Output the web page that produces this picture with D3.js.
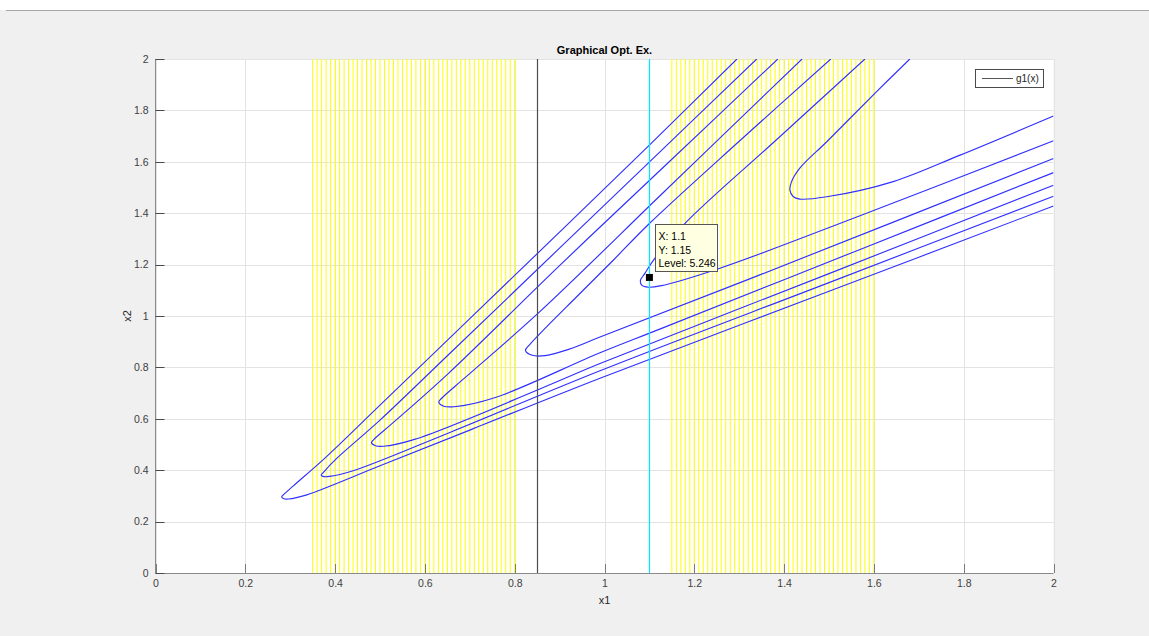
<!DOCTYPE html>
<html>
<head>
<meta charset="utf-8">
<script src="https://cdn.jsdelivr.net/npm/d3@7"></script>
<style>
  body { margin: 0; background: #ffffff; }
  svg { display: block; font-family: "Liberation Sans", Arial, sans-serif; }
</style>
</head>
<body>
<div class="chart"></div>
<script>
const width = 1149;
const height = 636;

// Tick values for both axes
const xTicks = [0, 0.2, 0.4, 0.6, 0.8, 1, 1.2, 1.4, 1.6, 1.8, 2];
const yTicks = [0, 0.2, 0.4, 0.6, 0.8, 1, 1.2, 1.4, 1.6, 1.8, 2];

// Yellow vertical lines (two bands)
const yellowLeft = [0.35, 0.36, 0.37, 0.38, 0.39, 0.40, 0.41, 0.42, 0.43, 0.44, 0.45, 0.46,
  0.47, 0.48, 0.49, 0.50, 0.51, 0.52, 0.53, 0.54, 0.55, 0.56, 0.57, 0.58, 0.59, 0.60, 0.61,
  0.62, 0.63, 0.64, 0.65, 0.66, 0.67, 0.68, 0.69, 0.70, 0.71, 0.72, 0.73, 0.74, 0.75, 0.76,
  0.77, 0.78, 0.79, 0.80];
const yellowRight = [1.15, 1.16, 1.17, 1.18, 1.19, 1.20, 1.21, 1.22, 1.23, 1.24, 1.25, 1.26,
  1.27, 1.28, 1.29, 1.30, 1.31, 1.32, 1.33, 1.34, 1.35, 1.36, 1.37, 1.38, 1.39, 1.40, 1.41,
  1.42, 1.43, 1.44, 1.45, 1.46, 1.47, 1.48, 1.49, 1.50, 1.51, 1.52, 1.53, 1.54, 1.55, 1.56,
  1.57, 1.58, 1.59, 1.60];

// g1(x) line and the cyan line
const g1X = 0.85;
const cyanX = 1.1;

// Contour lines: [x1, x2]
const contour1 = [[1.295, 2], [1.10, 1.665], [0.901, 1.328], [0.70, 0.99], [0.50, 0.653],
  [0.381, 0.453], [0.307, 0.339], [0.284, 0.303], [0.281, 0.296], [0.286, 0.289],
  [0.296, 0.288], [0.337, 0.304], [0.50, 0.417], [0.70, 0.556], [0.990, 0.758],
  [1.5, 1.096], [2, 1.428]];
const contour2 = [[1.339, 2], [1.12, 1.633], [0.901, 1.266], [0.657, 0.857], [0.50, 0.595],
  [0.403, 0.445], [0.373, 0.39], [0.369, 0.381], [0.375, 0.375], [0.388, 0.376],
  [0.442, 0.399], [0.657, 0.548], [0.990, 0.787], [1.5, 1.13], [2, 1.466]];
const contour3 = [[1.386, 2], [1.15, 1.61], [0.901, 1.198], [0.652, 0.776], [0.526, 0.580],
  [0.486, 0.519], [0.481, 0.507], [0.490, 0.495], [0.507, 0.493], [0.577, 0.520],
  [0.856, 0.716], [0.990, 0.815], [1.5, 1.165], [2, 1.509]];
const contour4 = [[1.440, 2], [1.28, 1.731], [1.123, 1.467], [0.856, 1.017], [0.690, 0.761],
  [0.638, 0.681], [0.631, 0.665], [0.642, 0.649], [0.665, 0.647], [0.757, 0.683],
  [0.990, 0.857], [1.123, 0.949], [1.572, 1.261], [2, 1.558]];
const contour5 = [[1.504, 2], [1.30, 1.68], [1.10, 1.36], [1.020, 1.218], [0.938, 1.075],
  [0.871, 0.958], [0.833, 0.888], [0.824, 0.866], [0.839, 0.847], [0.868, 0.846],
  [0.92, 0.87], [0.99, 0.918], [1.346, 1.16], [2, 1.613]];
const contour6 = [[1.580, 2], [1.38, 1.681], [1.183, 1.367], [1.112, 1.224], [1.090, 1.166],
  [1.080, 1.138], [1.083, 1.120], [1.098, 1.112], [1.124, 1.117], [1.257, 1.186],
  [1.569, 1.39], [2, 1.682]];
const contour7 = [[1.680, 2], [1.606, 1.873], [1.495, 1.678], [1.435, 1.575], [1.416, 1.52],
  [1.413, 1.490], [1.420, 1.465], [1.435, 1.455], [1.495, 1.464], [1.643, 1.523],
  [1.792, 1.626], [2, 1.778]];
const contours = [contour1, contour2, contour3, contour4, contour5, contour6, contour7];

// Data tip
const tipPoint = [1.1, 1.15];
const tipLines = ['X: 1.1', 'Y: 1.15', 'Level: 5.246'];

const svg = d3.select('.chart')
  .append('svg')
  .attr('width', width)
  .attr('height', height);

// Figure background
svg.append('rect').attr('x', 0).attr('y', 10).attr('width', width).attr('height', height - 10)
  .attr('fill', '#f0f0f0');
svg.append('line').attr('x1', 6).attr('x2', width).attr('y1', 10.5).attr('y2', 10.5)
  .attr('stroke', '#a8a8a8');

// Setting up scales
const xScale = d3.scaleLinear().domain([0, 2]).range([155.5, 1053.5]);
const yScale = d3.scaleLinear().domain([0, 2]).range([573, 59]);
const snap = (v) => Math.round(v) + 0.5;

svg.append('rect')
  .attr('x', xScale(0)).attr('y', yScale(2))
  .attr('width', xScale(2) - xScale(0)).attr('height', yScale(0) - yScale(2))
  .attr('fill', '#ffffff');

svg.append('clipPath').attr('id', 'plot-clip')
  .append('rect')
  .attr('x', xScale(0)).attr('y', yScale(2))
  .attr('width', xScale(2) - xScale(0)).attr('height', yScale(0) - yScale(2));

// Grid
svg.append('g')
  .selectAll('line')
  .data(xTicks)
  .enter()
  .append('line')
  .attr('x1', (d) => snap(xScale(d)))
  .attr('x2', (d) => snap(xScale(d)))
  .attr('y1', yScale(0))
  .attr('y2', yScale(2))
  .attr('stroke', '#e3e3e3');

svg.append('g')
  .selectAll('line')
  .data(yTicks)
  .enter()
  .append('line')
  .attr('x1', xScale(0))
  .attr('x2', xScale(2))
  .attr('y1', (d) => snap(yScale(d)))
  .attr('y2', (d) => snap(yScale(d)))
  .attr('stroke', '#e3e3e3');

const plot = svg.append('g').attr('clip-path', 'url(#plot-clip)');

// Yellow lines
plot.append('g')
  .selectAll('line')
  .data(yellowLeft.concat(yellowRight))
  .enter()
  .append('line')
  .attr('x1', (d) => xScale(d))
  .attr('x2', (d) => xScale(d))
  .attr('y1', yScale(0))
  .attr('y2', yScale(2))
  .attr('stroke', '#ffff00')
  .attr('stroke-width', 1);

// Contours
const line = d3.line()
  .x((d) => xScale(d[0]))
  .y((d) => yScale(d[1]))
  .curve(d3.curveCatmullRom.alpha(0.5));

plot.append('g')
  .selectAll('path')
  .data(contours)
  .enter()
  .append('path')
  .attr('d', line)
  .attr('fill', 'none')
  .attr('stroke', '#3030ff')
  .attr('stroke-width', 1.15);

// Vertical lines
plot.append('line')
  .attr('x1', snap(xScale(g1X))).attr('x2', snap(xScale(g1X)))
  .attr('y1', yScale(0)).attr('y2', yScale(2))
  .attr('stroke', '#4d4d4d').attr('stroke-width', 1.2);

plot.append('line')
  .attr('x1', snap(xScale(cyanX))).attr('x2', snap(xScale(cyanX)))
  .attr('y1', yScale(0)).attr('y2', yScale(2))
  .attr('stroke', '#00e8ff').attr('stroke-width', 1.2);

// Axes
const xAxis = d3.axisBottom(xScale).tickValues(xTicks).tickSize(0).tickPadding(7)
  .tickFormat(d3.format('~g'));
const yAxis = d3.axisLeft(yScale).tickValues(yTicks).tickSize(0).tickPadding(7)
  .tickFormat(d3.format('~g'));

const gx = svg.append('g')
  .attr('transform', `translate(0, ${yScale(0)})`)
  .call(xAxis);
const gy = svg.append('g')
  .attr('transform', `translate(${xScale(0)}, 0)`)
  .call(yAxis);

[gx, gy].forEach((g) => {
  g.select('.domain').remove();
  g.selectAll('text').attr('fill', '#404040').style('font-size', '10.5px')
    .style('font-family', '"Liberation Sans", Arial, sans-serif');
});

// Axis lines and inward ticks
svg.append('line')
  .attr('x1', xScale(0)).attr('x2', xScale(2))
  .attr('y1', yScale(0) + 0.5).attr('y2', yScale(0) + 0.5)
  .attr('stroke', '#8a8a8a');
svg.append('line')
  .attr('x1', xScale(0)).attr('x2', xScale(0))
  .attr('y1', yScale(0) + 0.5).attr('y2', yScale(2))
  .attr('stroke', '#8a8a8a');

svg.append('g')
  .selectAll('line')
  .data(xTicks)
  .enter()
  .append('line')
  .attr('x1', (d) => snap(xScale(d)))
  .attr('x2', (d) => snap(xScale(d)))
  .attr('y1', yScale(0))
  .attr('y2', yScale(0) - 9)
  .attr('stroke', '#7a7a7a');

svg.append('g')
  .selectAll('line')
  .data(yTicks)
  .enter()
  .append('line')
  .attr('x1', xScale(0))
  .attr('x2', xScale(0) + 9)
  .attr('y1', (d) => snap(yScale(d)))
  .attr('y2', (d) => snap(yScale(d)))
  .attr('stroke', '#4a4a4a');

// Title and labels
svg.append('text')
  .attr('x', (xScale(0) + xScale(2)) / 2).attr('y', 54)
  .attr('text-anchor', 'middle')
  .style('font-size', '11px').style('font-weight', 'bold')
  .attr('fill', '#000')
  .text('Graphical Opt. Ex.');

svg.append('text')
  .attr('x', (xScale(0) + xScale(2)) / 2).attr('y', 604)
  .attr('text-anchor', 'middle')
  .style('font-size', '11px').attr('fill', '#262626')
  .text('x1');

svg.append('text')
  .attr('transform', `translate(131, ${(yScale(0) + yScale(2)) / 2}) rotate(-90)`)
  .attr('text-anchor', 'middle')
  .style('font-size', '11px').attr('fill', '#262626')
  .text('x2');

// Legend
const legend = svg.append('g');
legend.append('rect')
  .attr('x', 975.5).attr('y', 69.5).attr('width', 68).attr('height', 18)
  .attr('fill', '#ffffff').attr('stroke', '#4a4a4a');
legend.append('line')
  .attr('x1', 982).attr('x2', 1013).attr('y1', 78.5).attr('y2', 78.5)
  .attr('stroke', '#555555');
legend.append('text')
  .attr('x', 1016).attr('y', 82)
  .style('font-size', '10px').attr('fill', '#262626')
  .text('g1(x)');

// Data tip
svg.append('rect')
  .attr('x', xScale(tipPoint[0]) - 3.5).attr('y', yScale(tipPoint[1]) - 3.5)
  .attr('width', 7).attr('height', 7)
  .attr('fill', '#000');

const tip = svg.append('g');
tip.append('rect')
  .attr('x', 655.5).attr('y', 224.5).attr('width', 62).attr('height', 47)
  .attr('fill', '#ffffe1').attr('stroke', '#555555');
tip.selectAll('text')
  .data(tipLines)
  .enter()
  .append('text')
  .attr('x', 658.5)
  .attr('y', (_d, i) => 240 + i * 13.5)
  .style('font-size', '10.5px').attr('fill', '#000')
  .text((d) => d);
</script>
</body>
</html>
